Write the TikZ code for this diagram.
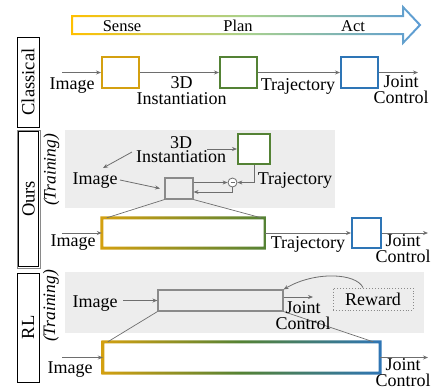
\documentclass[tikz,border=0pt]{standalone}
\usepackage{fontspec}
\setmainfont{Liberation Serif}
\usetikzlibrary{arrows.meta,calc}
\definecolor{cgold}{HTML}{D4A010}
\definecolor{cgreen}{HTML}{548235}
\definecolor{cblue}{HTML}{2E75B6}
\definecolor{ayellow}{HTML}{FFC000}
\definecolor{agreen}{HTML}{A9D18E}
\definecolor{ablue}{HTML}{5B9BD5}
\definecolor{bggray}{HTML}{EDEDED}
\definecolor{arrgray}{HTML}{6E6E6E}
\definecolor{boxgray}{HTML}{8A8A8A}
\begin{document}
\begin{tikzpicture}[x=1pt,y=-1pt,
 txt/.style={font=\fontsize{18}{15}\selectfont, inner sep=0, anchor=base},
 stackA/.style={font=\fontsize{18}{15.5}\selectfont, inner sep=0, align=center, anchor=center},
 stackB/.style={font=\fontsize{18}{14.5}\selectfont, inner sep=0, align=center, anchor=center},
 stackC/.style={font=\fontsize{18}{16.2}\selectfont, inner sep=0, align=center, anchor=center},
 toptxt/.style={font=\fontsize{16.5}{16}\selectfont, inner sep=0, anchor=base},
 lblbox/.style={draw, line width=0.8pt, rotate=90, inner sep=0, font=\fontsize{18.5}{18}\selectfont},
 trn/.style={font=\fontsize{17.5}{17}\selectfont\itshape, inner sep=0, rotate=90},
 arr/.style={draw=arrgray, line width=0.8pt, -{Stealth[length=5pt,width=4pt]}},
 thin line/.style={draw=arrgray, line width=0.7pt},
 cbox/.style={draw, line width=2pt, fill=white, inner sep=0},
 gbox/.style={fill=white, inner sep=0},
 graybox/.style={draw=boxgray, line width=1.1pt, fill=bggray, inner sep=0},
 bgrect/.style={fill=bggray, inner sep=0},
]
\useasboundingbox (0,0) rectangle (433,389);

% ---------- top arrow ----------
\shade[left color=ayellow, right color=ablue, middle color=agreen, even odd rule]
 (71,15) -- (402,15) -- (402,4.6) -- (421.4,25) -- (402,45.4) -- (402,35) -- (71,35) -- cycle
 (73,17) -- (404,17) -- (404,9.4) -- (418.6,25) -- (404,40.6) -- (404,33) -- (73,33) -- cycle;
\node[toptxt] (sense) at (122,31) {Sense};
\node[toptxt] (plan) at (238,31) {Plan};
\node[toptxt] (act) at (353,31) {Act};

% ---------- side labels ----------
\node[lblbox, minimum width=90pt, minimum height=22pt] (lclass) at (28,82) {Classical};
\node[lblbox, draw=boxgray, minimum width=138pt, minimum height=23pt] (lours) at (28.5,199) {};
\draw[black, line width=0.8pt] ($(lours.north west)+(1.6,-1.6)$) rectangle ($(lours.south east)+(-1.6,1.6)$);
\node[inner sep=0, rotate=90, font=\fontsize{18.5}{18}\selectfont] (toursl) at (lours) {Ours};
\node[lblbox, minimum width=109pt, minimum height=22pt] (lrl) at (28,327.5) {RL};
\node[trn] (trainA) at (51.5,170) {(Training)};
\node[trn] (trainB) at (51,306) {(Training)};

% ---------- classical row ----------
\node[cbox, draw=cgold, minimum width=37pt, minimum height=31pt] (c1) at (120.5,72.5) {};
\node[cbox, draw=cgreen, minimum width=37pt, minimum height=31pt] (c2) at (238.5,72.5) {};
\node[cbox, draw=cblue, minimum width=37pt, minimum height=31pt] (c3) at (359.5,72.5) {};
\coordinate (cs) at (62,72.5);
\coordinate (ce) at (418,72.5);
\draw[arr] (cs) -- (c1);
\draw[arr] (c1) -- (c2);
\draw[arr] (c2) -- (c3);
\draw[arr] (c3) -- (ce);
\node[txt] (cimg) at (72,89) {Image};
\node[stackA] (cinst) at (181.5,90.6) {3D\\Instantiation};
\node[txt] (ctraj) at (298,90) {Trajectory};
\node[stackC] (cjoint) at (401,89.9) {Joint\\Control};

% ---------- ours ----------
\node[bgrect, minimum width=270pt, minimum height=78pt] (obg) at (200,169) {};
\node[cbox, draw=cgreen, minimum width=32pt, minimum height=30pt] (og) at (254,149) {};
\node[stackB] (oinst) at (181,149.5) {3D\\Instantiation};
\coordinate (o3s) at (207,149);
\draw[arr] (o3s) -- (og);
\coordinate (oia) at (132,152);
\coordinate (oib) at (103,168);
\draw[arr] (oia) -- (oib);
\node[txt] (oimg) at (95,184) {Image};
\node[graybox, minimum width=28pt, minimum height=21pt] (sb) at (179,188.5) {};
\coordinate (ois) at (120,180);
\coordinate (oie) at (160,188.5);
\draw[arr] (ois) -- (oie);
\node[circle, draw=arrgray, line width=0.8pt, fill=white, minimum size=9pt, inner sep=0] (m) at (232.5,182.5) {};
\draw[arrgray, line width=0.7pt] ([xshift=-2pt]m.center) -- ([xshift=2pt]m.center);
\draw[arr] (og.south) |- (m.east);
\draw[arr] (sb.east |- m.west) -- (m.west);
\draw[arr] (m.south) |- ([yshift=-3.5pt]sb.east);
\node[txt] (otraj) at (295,184) {Trajectory};

\node[gbox, minimum width=163pt, minimum height=30pt] (obig) at (183.5,233) {};
\shade[left color=cgold, right color=cgreen, even odd rule]
 ($(obig.north west)+(-1.5,-1.5)$) rectangle ($(obig.south east)+(1.5,1.5)$)
 ($(obig.north west)+(1.5,1.5)$) rectangle ($(obig.south east)+(-1.5,-1.5)$);
\draw[thin line] (sb.south west) -- ([xshift=5pt]obig.north west);
\draw[thin line] (sb.south east) -- ([xshift=-4pt]obig.north east);
\node[cbox, draw=cblue, minimum width=29pt, minimum height=30pt] (ob) at (366.5,233) {};
\coordinate (os) at (62,233);
\coordinate (oe) at (428,233);
\draw[arr] (os) -- (obig);
\draw[arr] (obig) -- (ob);
\draw[arr] (ob) -- (oe);
\node[txt] (oimg2) at (73,246) {Image};
\node[txt] (otraj2) at (308,248) {Trajectory};
\node[stackC] (ojoint) at (403,248.85) {Joint\\Control};

% ---------- RL ----------
\node[bgrect, minimum width=359pt, minimum height=61pt] (rbg) at (244.5,302.5) {};
\node[graybox, minimum width=125pt, minimum height=21pt] (rb) at (220.5,300.5) {};
\node[txt] (rimg) at (95,307) {Image};
\coordinate (rs) at (123,300.5);
\draw[arr] (rs) -- (rb);
\coordinate (rjo) at (313,297);
\draw[arr] ([yshift=3.5pt]rb.east) -- (rjo);
\node[draw=boxgray, dotted, line width=0.9pt, minimum width=80pt, minimum height=22pt, inner sep=0,
      font=\fontsize{18}{15}\selectfont] (rw) at (373,299) {Reward};
\draw[arr] ([xshift=-10pt]rw.north) .. controls (356,273) and (315,271) .. (rb.north east);

\node[gbox, minimum width=277pt, minimum height=31pt] (rbig) at (241.5,357.5) {};
\shade[left color=cgold, right color=cblue, middle color=cgreen, even odd rule]
 ($(rbig.north west)+(-1.5,-1.5)$) rectangle ($(rbig.south east)+(1.5,1.5)$)
 ($(rbig.north west)+(1.5,1.5)$) rectangle ($(rbig.south east)+(-1.5,-1.5)$);
\draw[thin line] (rb.south west) -- ([xshift=5pt]rbig.north west);
\draw[thin line] (rb.south east) -- ([xshift=-7pt]rbig.north east);
\node[stackC] (rjoint) at (303,315.85) {Joint\\Control};
\coordinate (rs2) at (62,357.5);
\coordinate (re2) at (428,357.5);
\draw[arr] (rs2) -- (rbig);
\draw[arr] (rbig) -- (re2);
\node[txt] (rimg2) at (70,373) {Image};
\node[stackC] (rjoint2) at (403,372.85) {Joint\\Control};
\end{tikzpicture}
\end{document}
